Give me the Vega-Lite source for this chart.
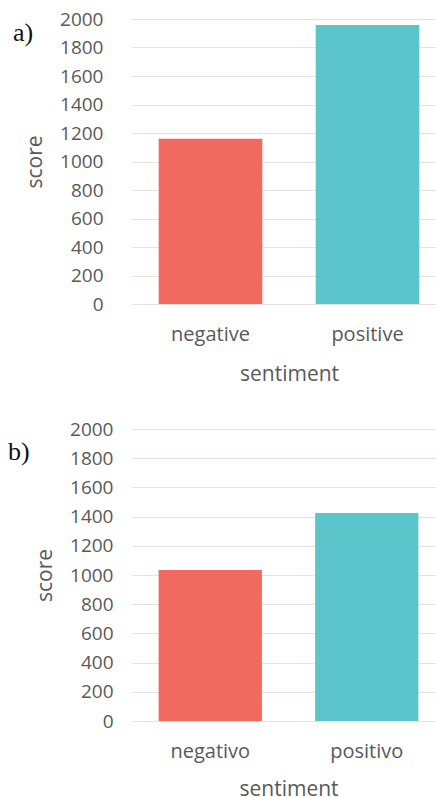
{
  "$schema": "https://vega.github.io/schema/vega-lite/v6.json",
  "background": "white",
  "padding": {"left": 8, "top": 10, "right": 0, "bottom": 0},
  "datasets": {
    "a": [
      {"sentiment": "negative", "score": 1160},
      {"sentiment": "positive", "score": 1958}
    ],
    "b": [
      {"sentiment": "negativo", "score": 1035},
      {"sentiment": "positivo", "score": 1425}
    ]
  },
  "columns": 1,
  "concat": [
    {
      "title": {"text": "a)", "anchor": "start", "frame": "group", "dx": -119, "dy": 40, "font": "Liberation Serif", "fontSize": 26, "fontWeight": "normal", "color": "#111111"},
      "width": 314,
      "height": 285,
      "data": {"name": "a"},
      "mark": {"type": "bar"},
      "encoding": {
        "x": {"field": "sentiment", "type": "nominal", "sort": null,
              "scale": {"paddingInner": 0.34, "paddingOuter": 0.17},
              "axis": {"labelAngle": 0, "labelPadding": 20, "titlePadding": 19, "labelFontSize": 20, "titleFontSize": 21}},
        "y": {"field": "score", "type": "quantitative",
              "scale": {"domain": [0, 2000], "nice": false},
              "axis": {"format": "d", "values": [0, 200, 400, 600, 800, 1000, 1200, 1400, 1600, 1800, 2000], "labelPadding": 29, "titlePadding": 14, "labelFontSize": 19, "titleFontSize": 21}},
        "color": {"field": "sentiment", "type": "nominal", "legend": null,
                  "scale": {"domain": ["negative", "positive"], "range": ["#F06A5F", "#5CC5CB"]}}
      }
    },
    {
      "title": {"text": "b)", "anchor": "start", "frame": "group", "dx": -124, "dy": 49, "font": "Liberation Serif", "fontSize": 26, "fontWeight": "normal", "color": "#111111"},
      "width": 313,
      "height": 292,
      "data": {"name": "b"},
      "mark": {"type": "bar"},
      "encoding": {
        "x": {"field": "sentiment", "type": "nominal", "sort": null,
              "scale": {"paddingInner": 0.34, "paddingOuter": 0.17},
              "axis": {"labelAngle": 0, "labelPadding": 20, "titlePadding": 17, "labelFontSize": 20, "titleFontSize": 21}},
        "y": {"field": "score", "type": "quantitative",
              "scale": {"domain": [0, 2000], "nice": false},
              "axis": {"format": "d", "values": [0, 200, 400, 600, 800, 1000, 1200, 1400, 1600, 1800, 2000], "labelPadding": 19, "titlePadding": 14, "labelFontSize": 19, "titleFontSize": 21}},
        "color": {"field": "sentiment", "type": "nominal", "legend": null,
                  "scale": {"domain": ["negativo", "positivo"], "range": ["#F06A5F", "#5CC5CB"]}}
      }
    }
  ],
  "spacing": 36,
  "config": {
    "font": "Open Sans",
    "view": {"stroke": null},
    "axis": {
      "domain": false,
      "ticks": false,
      "labelColor": "#595959",
      "titleColor": "#595959",
      "titleFontWeight": "normal",
      "labelFont": "Open Sans",
      "titleFont": "Open Sans",
      "gridColor": "#e8e2de",
      "gridWidth": 1.2
    },
    "axisX": {"grid": false},
    "axisY": {"grid": true}
  }
}
